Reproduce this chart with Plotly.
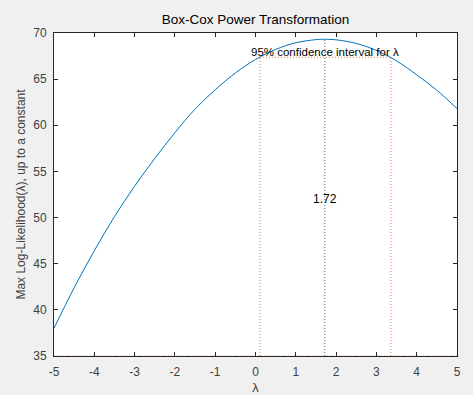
import plotly.graph_objects as go

# Profile log-likelihood of the Box-Cox exponent
lam = [-5.0, -4.5, -4.0, -3.5, -3.0, -2.5, -2.0, -1.5, -1.0, -0.5, 0.0,
       0.5, 1.0, 1.5, 1.72, 2.0, 2.5, 3.0, 3.5, 4.0, 4.5, 5.0]
loglik = [38.0, 42.4, 46.4, 50.1, 53.4, 56.4, 59.2, 61.75, 63.85, 65.67, 67.13,
          68.22, 68.94, 69.28, 69.32, 69.26, 68.87, 68.11, 66.98, 65.47, 63.8, 61.8]

lam_hat = 1.72
ci_low, ci_high = 0.11, 3.36
ci_level = 67.37

x_ticks = [-5, -4, -3, -2, -1, 0, 1, 2, 3, 4, 5]
x_tick_text = ["-5", "-4", "-3", "-2", "-1", "0", "1", "2", "3", "4", "5"]
y_ticks = [35, 40, 45, 50, 55, 60, 65, 70]

blue = "#0072BD"
orange = "rgba(217,83,25,0.75)"
ink = "#404040"
font_family = "Liberation Sans, Arial, sans-serif"
dots = "1px,2px"

fig = go.Figure()

fig.add_trace(go.Scatter(x=lam, y=loglik, mode="lines", line=dict(color=blue, width=1, shape="spline"),
                         hoverinfo="skip"))

y_floor = y_ticks[0]
# confidence-interval guides
fig.add_trace(go.Scatter(x=[ci_low, ci_low], y=[y_floor, ci_level], mode="lines",
                         line=dict(color=orange, width=1, dash=dots)))
fig.add_trace(go.Scatter(x=[ci_high, ci_high], y=[y_floor, ci_level], mode="lines",
                         line=dict(color=orange, width=1, dash=dots)))
fig.add_trace(go.Scatter(x=[ci_low, ci_high], y=[ci_level, ci_level], mode="lines",
                         line=dict(color=orange, width=1, dash=dots)))
fig.add_trace(go.Scatter(x=[x_ticks[0], x_ticks[-1]], y=[y_floor, y_floor], mode="lines",
                         line=dict(color=orange, width=1, dash=dots)))
# maximum-likelihood estimate
fig.add_trace(go.Scatter(x=[lam_hat, lam_hat], y=[y_floor, max(loglik)], mode="lines",
                         line=dict(color="rgba(0,0,0,0.6)", width=1, dash=dots)))

fig.add_annotation(x=lam_hat, y=ci_level + 0.6, text="95% confidence interval for λ",
                   showarrow=False, font=dict(family=font_family, size=11.5, color="#000000"))
fig.add_annotation(x=lam_hat, y=52.0, text=f"{lam_hat:.2f}",
                   showarrow=False, font=dict(family=font_family, size=12, color="#000000"))

axis_common = dict(showline=True, linecolor="#262626", linewidth=1, mirror="ticks",
                   ticks="inside", ticklen=4, tickcolor="#262626", showgrid=False, zeroline=False,
                   automargin=False,
                   tickfont=dict(family=font_family, size=12, color=ink))

fig.update_layout(
    width=473, height=395,
    paper_bgcolor="#F0F0F0", plot_bgcolor="#FFFFFF",
    margin=dict(l=54, r=16, t=33, b=39),
    showlegend=False,
    title=dict(text="Box-Cox Power Transformation", x=0.5, xref="paper", xanchor="center",
               y=1 - 19 / 395, yanchor="middle",
               font=dict(family=font_family, size=13.5, color="#000000")),
    xaxis=dict(range=[-5, 5], tickvals=x_ticks, ticktext=x_tick_text, layer="below traces",
               ticklabelstandoff=5,
               title=dict(text="λ", standoff=4, font=dict(family=font_family, size=13, color=ink)),
               **axis_common),
    yaxis=dict(range=[35, 70], tickvals=y_ticks, ticklabelstandoff=4,
               title=dict(text="Max Log-Likelihood(λ), up to a constant", standoff=5,
                          font=dict(family=font_family, size=12, color=ink)),
               **axis_common),
)

fig.write_html("out.html")
